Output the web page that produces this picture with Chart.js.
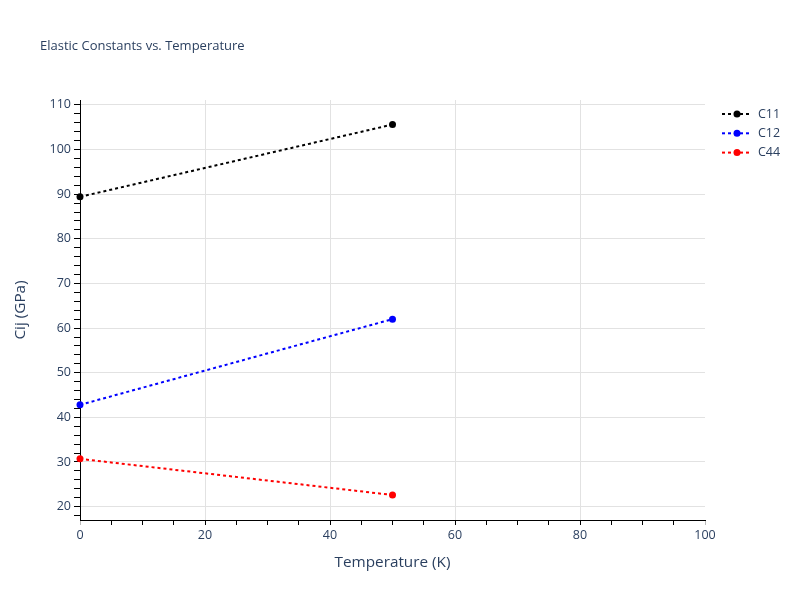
<!DOCTYPE html>
<html>
<head>
<meta charset="utf-8">
<script src="https://cdn.jsdelivr.net/npm/chart.js@4/dist/chart.umd.min.js"></script>
<style>
  html, body { margin: 0; padding: 0; background: #fff; }
  #wrap { width: 800px; height: 600px; }
</style>
</head>
<body>
<div id="wrap"><canvas id="c" width="800" height="600"></canvas></div>
<script>
const temperatures = [0, 50];
const c11 = [89.4, 105.6];
const c12 = [42.8, 62.0];
const c44 = [30.7, 22.6];
const seriesNames = ['C11', 'C12', 'C44'];
const seriesColors = ['#000000', '#0000ff', '#ff0000'];
const chartTitle = 'Elastic Constants vs. Temperature';
const xTitle = 'Temperature (K)';
const yTitle = 'Cij (GPa)';

const FONT = '"Open Sans", "DejaVu Sans", Arial, sans-serif';
const TXT = '#2a3f5f';
const GRID = '#e2e2e2';

function pts(vals) { return temperatures.map((t, i) => ({x: t, y: vals[i]})); }
const seriesVals = [c11, c12, c44];

const datasets = seriesNames.map((n, i) => ({
  label: n,
  data: pts(seriesVals[i]),
  borderColor: seriesColors[i],
  backgroundColor: seriesColors[i],
  pointBackgroundColor: seriesColors[i],
  pointBorderColor: seriesColors[i],
  pointRadius: 3.5,
  pointBorderWidth: 0,
  borderWidth: 2,
  borderDash: [3, 3],
  showLine: true,
  tension: 0,
  clip: false
}));

const overlay = {
  id: 'overlay',
  afterDraw(chart) {
    const ctx = chart.ctx;
    ctx.save();
    ctx.fillStyle = TXT;
    ctx.font = '13px ' + FONT;
    ctx.textBaseline = 'middle';
    ctx.textAlign = 'left';
    ctx.fillText(chartTitle, 40, 46);
    // legend
    seriesNames.forEach((n, i) => {
      const y = 114 + i * 19.3;
      ctx.strokeStyle = seriesColors[i];
      ctx.lineWidth = 2;
      ctx.setLineDash([3, 3]);
      ctx.beginPath();
      ctx.moveTo(722, y);
      ctx.lineTo(752, y);
      ctx.stroke();
      ctx.setLineDash([]);
      ctx.fillStyle = seriesColors[i];
      ctx.beginPath();
      ctx.arc(737, y, 3.5, 0, Math.PI * 2);
      ctx.fill();
      ctx.fillStyle = TXT;
      ctx.font = '12.5px ' + FONT;
      ctx.fillText(n, 758, y);
    });
    ctx.restore();
  }
};

new Chart(document.getElementById('c'), {
  type: 'scatter',
  data: { datasets },
  plugins: [overlay],
  options: {
    responsive: false,
    animation: false,
    devicePixelRatio: 1,
    layout: { padding: { top: 100, right: 95, left: 0, bottom: 0 } },
    plugins: { legend: { display: false }, tooltip: { enabled: false }, title: { display: false } },
    scales: {
      x: {
        type: 'linear',
        min: 0, max: 100,
        afterBuildTicks(scale) {
          const t = [];
          for (let v = 0; v <= 100; v += 5) t.push({ value: v });
          scale.ticks = t;
        },
        afterFit(scale) { scale.height = 80; },
        ticks: {
          autoSkip: false, maxRotation: 0, padding: 3,
          color: TXT, font: { family: FONT, size: 12.5 },
          callback: v => (v % 20 === 0 ? String(v) : '')
        },
        grid: {
          drawOnChartArea: true,
          tickLength: 5,
          color: c => (c.tick && c.tick.value % 20 === 0 && c.tick.value !== 0 && c.tick.value !== 100) ? GRID : 'rgba(0,0,0,0)',
          tickColor: c => (c.tick && (c.tick.value === 0 || c.tick.value === 100)) ? '#bbbbbb' : '#000000',
          lineWidth: 1
        },
        border: { display: true, color: '#000000', width: 1 },
        title: { display: true, text: xTitle, color: TXT, font: { family: FONT, size: 15.3 }, padding: { top: 0, bottom: 28 } }
      },
      y: {
        type: 'linear',
        min: 17, max: 111.1,
        afterBuildTicks(scale) {
          const t = [];
          for (let v = 18; v <= 110; v += 2) t.push({ value: v });
          scale.ticks = t;
        },
        afterFit(scale) { scale.width = 80; },
        ticks: {
          autoSkip: false, padding: 3,
          color: TXT, font: { family: FONT, size: 12.5 },
          callback: v => (v % 10 === 0 ? String(v) : '')
        },
        grid: {
          tickLength: 6,
          color: c => (c.tick && c.tick.value % 10 === 0) ? GRID : 'rgba(0,0,0,0)',
          tickColor: '#000000',
          lineWidth: 1
        },
        border: { display: true, color: '#000000', width: 1 },
        title: { display: true, text: yTitle, color: TXT, font: { family: FONT, size: 15.3 }, padding: { top: 11, bottom: 0 } }
      }
    }
  }
});
</script>
</body>
</html>
